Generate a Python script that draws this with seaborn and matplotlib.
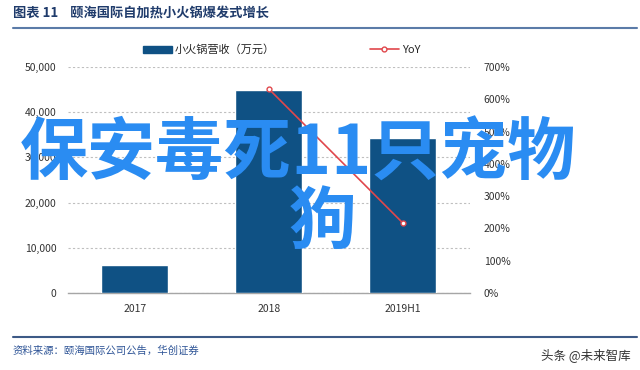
import matplotlib
matplotlib.use("Agg")
import matplotlib.pyplot as plt
import seaborn as sns
import pandas as pd
from matplotlib.lines import Line2D
from matplotlib.patches import Patch
from matplotlib.ticker import FuncFormatter

# data
categories = ["2017", "2018", "2019H1"]
revenue = [6200, 45000, 34300]          # 小火锅营收（万元）
yoy_cats = ["2018", "2019H1"]
yoy = [632, 217]                        # YoY, %

sns.set_theme(style="white")
plt.rcParams['font.family'] = ['Noto Sans CJK SC', 'DejaVu Sans']

bar_color = "#0f5184"
line_color = "#e0474c"

df = pd.DataFrame({"year": categories, "revenue": revenue})

fig = plt.figure(figsize=(6.4, 3.7), dpi=100)
ax = fig.add_axes([0.106, 0.208, 0.628, 0.611])

sns.barplot(data=df, x="year", y="revenue", color=bar_color, width=0.5,
            saturation=1, ax=ax, zorder=3)
ax.set_xlim(-0.5, 2.5)
ax.set_ylim(0, 50000)
ax.set_yticks(range(0, 50001, 10000))
ax.yaxis.set_major_formatter(FuncFormatter(lambda v, p: f"{int(v):,}"))
ax.set_xlabel("")
ax.set_ylabel("")
ax.grid(axis="y", color="#bfbfbf", linestyle=(0, (2, 2)), linewidth=0.8, zorder=0)
for s in ["top", "right", "left"]:
    ax.spines[s].set_visible(False)
ax.spines["bottom"].set_color("#a6a6a6")
ax.spines["bottom"].set_linewidth(1.0)
ax.tick_params(axis="both", length=0, labelsize=7.5, colors="#333333", pad=8)

ax2 = ax.twinx()
xpos = [categories.index(c) for c in yoy_cats]
ax2.plot(xpos, yoy, color=line_color, linewidth=1.2, marker="o", markersize=3.5,
         markerfacecolor="white", markeredgecolor=line_color, markeredgewidth=1, zorder=5)
ax2.set_ylim(0, 700)
ax2.set_yticks(range(0, 701, 100))
ax2.yaxis.set_major_formatter(FuncFormatter(lambda v, p: f"{int(v)}%"))
for s in ax2.spines.values():
    s.set_visible(False)
ax2.tick_params(axis="y", length=0, labelsize=7.5, colors="#333333", pad=10)
ax2.grid(False)

handles = [Patch(facecolor=bar_color, edgecolor=bar_color),
           Line2D([0], [0], color=line_color, linewidth=1.2, marker="o", markersize=3.5,
                  markerfacecolor="white", markeredgecolor=line_color)]
fig.legend(handles, ["小火锅营收（万元）", "YoY"], loc="center", ncol=2,
           bbox_to_anchor=(0.44, 0.865), frameon=False, fontsize=8,
           columnspacing=8.5, handlelength=2.6, handletextpad=0.3)

# header
fig.text(0.02, 0.965, "图表 11    颐海国际自加热小火锅爆发式增长", fontsize=9.5,
         fontweight="bold", color="#1f3b6b", va="center")
fig.add_artist(Line2D([0.02, 0.995], [0.925, 0.925], color="#5b7ba8", linewidth=1.5))

# footer
fig.add_artist(Line2D([0.02, 0.995], [0.09, 0.09], color="#3d5a86", linewidth=1.5))
fig.text(0.02, 0.053, "资料来源：颐海国际公司公告，华创证券", fontsize=7.5,
         color="#2f5597", style="italic", va="center")
fig.text(0.985, 0.04, "头条 @未来智库", fontsize=9, color="#333333",
         ha="right", va="center")

# overlaid caption
fig.text(0.466, 0.582, "保安毒死11只宠物", fontsize=49, fontweight="bold",
         color="#2a8cf2", ha="center", va="center", zorder=10)
fig.text(0.505, 0.395, "狗", fontsize=49, fontweight="bold",
         color="#2a8cf2", ha="center", va="center", zorder=10)

fig.savefig("out.png", dpi=100)
